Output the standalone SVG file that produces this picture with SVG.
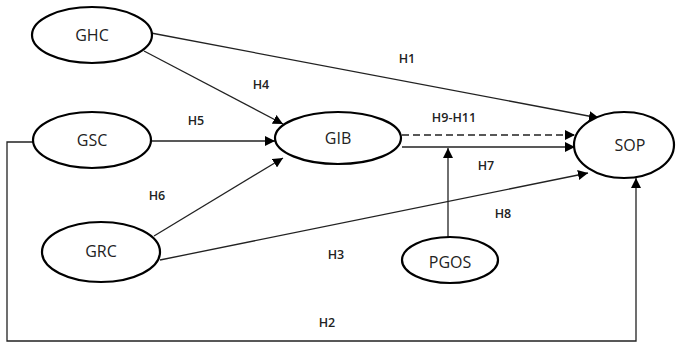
<svg xmlns="http://www.w3.org/2000/svg" width="684" height="343" viewBox="0 0 684 343">
<style>
.node ellipse{fill:#fff;stroke:#000;stroke-width:2.2}
.node text{font-family:"Open Sans","Liberation Sans",sans-serif;font-size:16px;fill:#222;text-anchor:middle;dominant-baseline:central}
.lbl{font-family:"Open Sans","Liberation Sans",sans-serif;font-size:12.5px;font-weight:600;fill:#222;text-anchor:middle;dominant-baseline:central}
.c{fill:none;stroke:#222;stroke-width:1.3}
.d{stroke-dasharray:7,4}
</style>
<defs>
<marker id="ah" viewBox="0 0 10 10" refX="10" refY="5" markerWidth="10" markerHeight="10" markerUnits="userSpaceOnUse" orient="auto">
<path d="M0,0 L10,5 L0,10 z" fill="#000"/>
</marker>
</defs>
<rect width="684" height="343" fill="#fff"/>
<g id="connectors">
<line class="c" x1="151" y1="33" x2="599" y2="118" marker-end="url(#ah)"/>
<line class="c" x1="144" y1="51" x2="283" y2="124" marker-end="url(#ah)"/>
<line class="c" x1="152" y1="141" x2="275" y2="141" marker-end="url(#ah)"/>
<line class="c" x1="154" y1="236" x2="283" y2="158" marker-end="url(#ah)"/>
<line class="c" x1="160" y1="260" x2="588" y2="173" marker-end="url(#ah)"/>
<line class="c d" x1="402" y1="135" x2="575" y2="135" marker-end="url(#ah)"/>
<line class="c" x1="402" y1="147" x2="575" y2="147" marker-end="url(#ah)"/>
<line class="c" x1="448" y1="237" x2="448" y2="148" marker-end="url(#ah)"/>
<polyline class="c" points="33,142 7,142 7,341 636,341 636,178" marker-end="url(#ah)"/>
</g>
<g id="GHC" class="node"><ellipse cx="92" cy="35" rx="60" ry="28"/><text x="92" y="35">GHC</text></g>
<g id="GSC" class="node"><ellipse cx="92" cy="140" rx="59" ry="28"/><text x="92" y="140">GSC</text></g>
<g id="GRC" class="node"><ellipse cx="101" cy="252" rx="59" ry="30"/><text x="101" y="251">GRC</text></g>
<g id="GIB" class="node"><ellipse cx="338" cy="138" rx="63" ry="26"/><text x="338" y="138">GIB</text></g>
<g id="SOP" class="node"><ellipse cx="624" cy="145" rx="50" ry="33"/><text x="630" y="145">SOP</text></g>
<g id="PGOS" class="node"><ellipse cx="450" cy="260" rx="48" ry="23"/><text x="450" y="262">PGOS</text></g>
<g id="labels">
<text class="lbl" x="407" y="58">H1</text>
<text class="lbl" x="261" y="84">H4</text>
<text class="lbl" x="196" y="120">H5</text>
<text class="lbl" x="454" y="117">H9-H11</text>
<text class="lbl" x="486" y="165">H7</text>
<text class="lbl" x="503" y="213">H8</text>
<text class="lbl" x="157" y="195">H6</text>
<text class="lbl" x="336" y="254">H3</text>
<text class="lbl" x="327" y="322">H2</text>
</g>
</svg>
